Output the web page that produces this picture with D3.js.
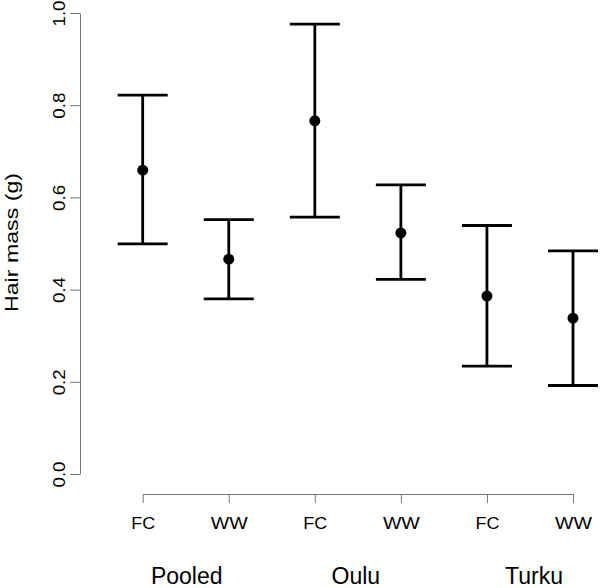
<!DOCTYPE html>
<html><head><meta charset="utf-8">
<script src="https://cdn.jsdelivr.net/npm/d3@7"></script>
<style>body{margin:0;background:#fff}svg{display:block}text{font-family:Arial,"Liberation Sans",sans-serif}</style>
</head><body>
<svg id="c" width="600" height="588"></svg>
<script>
const categories = ["FC","WW","FC","WW","FC","WW"];
const groups = ["Pooled","Oulu","Turku"];
const means = [0.659, 0.466, 0.766, 0.523, 0.386, 0.338];
const lower = [0.499, 0.380, 0.557, 0.422, 0.234, 0.192];
const upper = [0.822, 0.552, 0.976, 0.627, 0.539, 0.484];
const yTicks = [0, 0.2, 0.4, 0.6, 0.8, 1.0];

const svg = d3.select("#c");
const x = d3.scalePoint().domain(d3.range(categories.length)).range([142.7, 573]);
const y = d3.scaleLinear().domain([0, 1]).range([474, 13]);
const axisColor = "#777";

// Y axis
const ya = svg.append("g").attr("transform", "translate(80,0)")
  .call(d3.axisLeft(y).tickValues(yTicks).tickFormat(d3.format(".1f")).tickSize(10).tickSizeOuter(0));
ya.select(".domain").attr("stroke", axisColor);
ya.selectAll(".tick line").attr("stroke", axisColor);
ya.selectAll(".tick text").attr("font-size", 16.5).attr("fill", "#000")
  .attr("text-anchor", "middle").attr("x", 0).attr("y", 0).attr("dy", null)
  .attr("transform", "translate(-15,0) rotate(-90)")
  .attr("textLength", 26).attr("lengthAdjust", "spacingAndGlyphs");

// X axis
const xa = svg.append("g").attr("transform", "translate(0,494)")
  .call(d3.axisBottom(x).tickFormat(i => categories[i]).tickSize(9).tickSizeOuter(0));
xa.select(".domain").attr("stroke", axisColor);
xa.selectAll(".tick line").attr("stroke", axisColor);
xa.selectAll(".tick text").attr("font-size", 16.5).attr("fill", "#000").attr("y", 0).attr("dy", "35px")
  .attr("textLength", i => categories[i] === "WW" ? 37 : 24).attr("lengthAdjust", "spacingAndGlyphs");

// group labels
const grpShift = [1, -2, 4];
svg.selectAll("text.grp").data(groups).enter().append("text").attr("class","grp")
  .attr("x", (d,i) => (x(2*i) + x(2*i+1)) / 2 + grpShift[i])
  .attr("y", 584).attr("text-anchor", "middle").attr("font-size", 23).text(d => d);

// axis title
svg.append("text").attr("transform", "translate(18,242.5) rotate(-90)")
  .attr("text-anchor", "middle").attr("font-size", 19)
  .attr("textLength", 139).attr("lengthAdjust", "spacingAndGlyphs").text("Hair mass (g)");

// error bars
const g = svg.append("g").attr("stroke", "#000").attr("stroke-width", 2.8);
means.forEach((m, i) => {
  const cx = x(i);
  g.append("line").attr("x1", cx).attr("x2", cx).attr("y1", y(lower[i])).attr("y2", y(upper[i]));
  g.append("line").attr("x1", cx - 25).attr("x2", cx + 25).attr("y1", y(lower[i])).attr("y2", y(lower[i]));
  g.append("line").attr("x1", cx - 25).attr("x2", cx + 25).attr("y1", y(upper[i])).attr("y2", y(upper[i]));
});
svg.selectAll("circle.pt").data(means).enter().append("circle").attr("class","pt")
  .attr("cx", (d,i) => x(i)).attr("cy", d => y(d)).attr("r", 5.5).attr("fill", "#000");
</script>
</body></html>
